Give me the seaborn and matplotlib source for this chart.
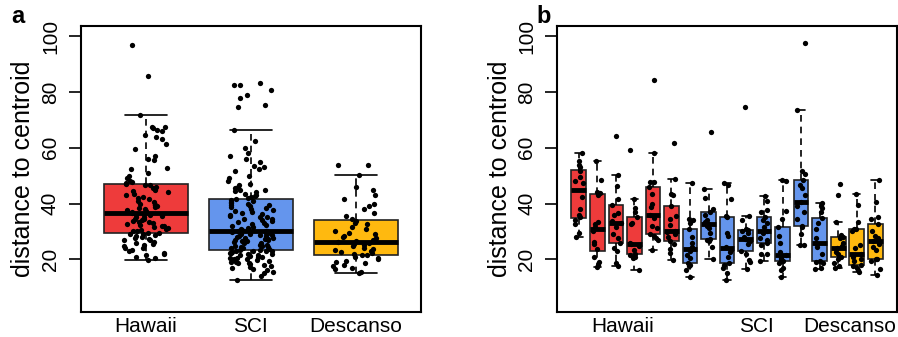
import numpy as np
import pandas as pd
import matplotlib
matplotlib.use("Agg")
import matplotlib.pyplot as plt
import seaborn as sns

sns.set_theme(style="white")
plt.rcParams['font.family'] = ['Liberation Sans', 'DejaVu Sans']
plt.rcParams.update({"text.color": "black", "axes.labelcolor": "black",
                     "xtick.color": "black", "ytick.color": "black"})

# ---------------- data ----------------
regions = ["Hawaii", "SCI", "Descanso"]
region_colors = ["#EE3B3B", "#6495ED", "#FFB90F"]

hawaii = [19.6, 20.5, 21, 21.5, 22, 22.3, 23, 23.5, 24, 24.2, 24.8, 25, 25.5, 26, 26.3, 26.8, 27, 27.3,
          27.8, 28, 28.3, 28.6, 29, 29.2, 29.4,
          29.6, 30, 30.3, 30.6, 31, 31.2, 31.5, 31.8, 32, 32.3, 32.6, 33, 33.2, 33.5, 33.8, 34, 34.3,
          34.6, 35, 35.3, 35.6, 35.9, 36.1, 36.3, 36.4,
          36.6, 37, 37.3, 37.6, 38, 38.3, 38.6, 39, 39.3, 39.6, 40, 40.5, 41, 41.5, 42, 42.5, 43, 43.5,
          44, 44.5, 45, 45.5, 46, 46.5, 46.8,
          47, 47.3, 47.6, 48, 49, 50, 51, 52.3, 52.8, 55.5, 56, 57, 59.5, 61.5, 63, 64, 64.5, 66, 66.5,
          67, 67.3, 67.5, 71.7, 85.6, 96.8]
sci = [12.4, 14, 15, 15.5, 16, 16.5, 17, 17.3, 17.6, 18, 18.2, 18.5, 18.8, 19, 19.2, 19.5, 19.7, 20,
       20.2, 20.4, 20.6, 20.8, 21, 21.2, 21.4, 21.6, 21.8, 22, 22.2, 22.4, 22.6, 22.8, 22.9, 23, 23.1,
       23.3, 23.5, 23.7, 23.9, 24.1, 24.3, 24.5, 24.7, 24.9, 25.1, 25.3, 25.5, 25.7, 26, 26.2, 26.4,
       26.6, 26.8, 27, 27.2, 27.4, 27.6, 27.8, 28, 28.2, 28.4, 28.6, 28.8, 29, 29.2, 29.4, 29.6, 29.8,
       30, 30.1,
       30.3, 30.6, 31, 31.3, 31.6, 32, 32.3, 32.6, 33, 33.3, 33.6, 34, 34.3, 34.6, 35, 35.3, 35.6, 36,
       36.3, 36.6, 37, 37.3, 37.6, 38, 38.3, 38.6, 39, 39.3, 39.6, 40, 40.3, 40.6, 41, 41.3, 41.7,
       42, 42.3, 42.6, 43, 43.5, 44, 44.5, 44.8, 45, 45.5, 46, 46.5, 47, 48, 49, 50, 51.5, 52.5, 53,
       53.5, 55, 56, 57, 58, 60, 62.5, 66.4, 74.7, 75.3, 77.8, 79.1, 80.8, 82.4, 82.7, 83.3]
descanso = [15.1, 15.5, 16.5, 17, 17.5, 18, 18.5, 19, 19.5, 20, 20.5, 21, 21.4,
            21.6, 22, 22.3, 22.7, 23, 23.4, 23.8, 24.2, 24.6, 25, 25.4, 25.8, 26.2,
            26.5, 27, 27.5, 28, 28.5, 29, 29.5, 30, 31, 31.5, 32.5, 33, 33.9,
            34.5, 35.5, 36.5, 38, 39, 40, 41.5, 43, 45, 46, 50.1, 53.9, 53.9]

# panel b: sub-groups within each region
sub_region = ["Hawaii"] * 6 + ["SCI"] * 8 + ["Descanso"] * 3
sub_names = ["H1", "H2", "H3", "H4", "H5", "H6",
             "S1", "S2", "S3", "S4", "S5", "S6", "S7", "S8",
             "D1", "D2", "D3"]
sub_values = [
    [28.1, 29.6, 32.8, 34.2, 35.0, 36.0, 38.0, 42.5, 47.3, 48.0, 49.5, 51.8, 53.0, 54.0, 55.3, 58.3],
    [17.1, 17.8, 19.0, 21.0, 23.6, 25.5, 26.2, 30.0, 31.6, 32.8, 33.2, 43.2, 43.8, 44.0, 48.3, 55.3],
    [17.6, 18.5, 22.8, 24.0, 25.7, 27.5, 29.0, 31.5, 32.9, 33.8, 35.8, 36.5, 39.4, 41.5, 46.3, 50.2, 64.1],
    [16.2, 20.3, 21.0, 21.5, 21.9, 23.5, 24.6, 25.2, 25.5, 26.0, 32.5, 33.0, 35.3, 37.0, 38.3, 41.8, 59.3],
    [23.4, 26.8, 27.6, 28.4, 29.0, 31.2, 32.0, 34.7, 35.9, 38.8, 40.0, 43.4, 46.1, 47.8, 47.9, 58.3, 84.2],
    [19.8, 22.3, 23.8, 25.6, 26.5, 28.0, 29.2, 29.8, 30.1, 32.3, 34.5, 35.4, 39.2, 43.0, 43.5, 48.7, 61.9],
    [13.5, 16.2, 17.5, 18.0, 18.6, 20.5, 21.4, 22.8, 23.8, 24.3, 25.9, 28.0, 31.0, 32.9, 34.0, 34.6, 47.3],
    [20.0, 24.5, 26.5, 27.0, 27.4, 29.6, 31.3, 32.0, 32.5, 33.5, 34.2, 35.8, 37.0, 38.0, 42.0, 45.1, 65.5],
    [12.6, 15.2, 16.8, 18.0, 18.8, 21.0, 22.6, 23.5, 24.5, 28.5, 29.5, 35.0, 35.5, 41.5, 46.8, 47.3],
    [16.4, 19.0, 19.8, 22.0, 22.8, 25.5, 26.5, 27.0, 27.4, 28.0, 29.5, 30.0, 30.5, 30.8, 34.0, 35.6, 74.6],
    [19.5, 21.8, 22.0, 25.0, 26.0, 26.8, 27.5, 29.5, 30.1, 31.5, 33.0, 34.0, 35.0, 37.0, 37.8, 41.0, 42.8],
    [13.5, 16.2, 16.8, 18.5, 19.5, 20.0, 20.5, 21.2, 21.7, 22.5, 25.8, 28.5, 31.5, 34.6, 37.5, 48.0, 48.5],
    [25.0, 25.3, 29.0, 31.5, 32.0, 34.5, 37.0, 39.0, 40.6, 43.0, 45.5, 46.8, 48.6, 50.5, 51.5, 73.4, 97.6],
    [16.4, 17.0, 18.5, 19.0, 19.4, 22.0, 24.5, 25.5, 26.0, 27.5, 31.0, 33.0, 34.7, 37.0, 38.5, 39.2, 40.1],
    [16.8, 17.5, 18.5, 20.0, 20.7, 21.8, 22.5, 23.8, 24.2, 24.8, 26.0, 27.5, 28.1, 28.6, 33.4, 43.0, 47.1],
    [15.6, 16.0, 17.0, 17.5, 18.0, 19.5, 20.0, 21.0, 21.8, 24.0, 25.0, 30.0, 30.8, 31.0, 33.5, 39.5, 43.5],
    [14.3, 16.5, 19.5, 20.0, 20.1, 23.5, 24.5, 25.5, 26.7, 27.5, 28.3, 30.0, 32.7, 34.5, 35.0, 40.5, 48.5],
]
region_label_pos_b = [2.35, 9.6, 14.6]
yticks = [20, 40, 60, 80, 100]
ylabel = "distance to centroid"

# ---------------- frames ----------------
df_a = pd.DataFrame({
    "region": ["Hawaii"] * len(hawaii) + ["SCI"] * len(sci) + ["Descanso"] * len(descanso),
    "dist": hawaii + sci + descanso,
})
rows = []
for name, reg, vals in zip(sub_names, sub_region, sub_values):
    for v in vals:
        rows.append((name, reg, v))
df_b = pd.DataFrame(rows, columns=["sub", "region", "dist"])

pal = dict(zip(regions, region_colors))

fig = plt.figure(figsize=(8.98, 3.37), dpi=100)
ax_a = fig.add_axes([0.0899, 0.0751, 0.3789, 0.8486])
ax_b = fig.add_axes([0.6203, 0.0751, 0.3786, 0.8486])

box_kw = dict(width=0.8, showfliers=False, linecolor="#222222", linewidth=1.2, saturation=1,
              medianprops=dict(color="black", linewidth=3.5),
              whiskerprops=dict(color="black", linestyle=(0, (4, 3)), linewidth=1.2),
              capprops=dict(color="black", linewidth=1.2), whis=1.5)

np.random.seed(3)
sns.boxplot(data=df_a, x="region", y="dist", hue="region", order=regions, hue_order=regions,
            palette=pal, legend=False, ax=ax_a, **box_kw)
sns.stripplot(data=df_a, x="region", y="dist", order=regions, color="black", size=3.8,
              jitter=0.22, ax=ax_a, zorder=5)

sns.boxplot(data=df_b, x="sub", y="dist", hue="region", order=sub_names, hue_order=regions,
            palette=pal, legend=False, dodge=False, ax=ax_b, **box_kw)
sns.stripplot(data=df_b, x="sub", y="dist", order=sub_names, color="black", size=3.8,
              jitter=0.25, ax=ax_b, zorder=5)

ax_a.set_xlim(-0.62, 2.62)
ax_b.set_xlim(-1.18, 17.18)
ax_b.set_xticks(region_label_pos_b)
ax_b.set_xticklabels(regions)

for ax in (ax_a, ax_b):
    ax.set_ylim(1.2, 103.8)
    ax.set_yticks(yticks)
    ax.set_yticklabels([str(t) for t in yticks], rotation=90, va="center")
    ax.set_xlabel("")
    ax.set_ylabel(ylabel, fontsize=18, labelpad=4)
    ax.tick_params(axis="y", left=True, direction="out", length=9, width=1.2,
                   labelsize=15, pad=6, color="black")
    ax.tick_params(axis="x", bottom=False, length=0, labelsize=15, pad=4)
    for s in ax.spines.values():
        s.set_visible(True)
        s.set_color("black")
        s.set_linewidth(1.5)
    ax.grid(False)

fig.text(0.013, 0.952, "a", fontsize=17, fontweight="bold", ha="left", va="center")
fig.text(0.597, 0.952, "b", fontsize=17, fontweight="bold", ha="left", va="center")

fig.savefig("out.png", dpi=100)
